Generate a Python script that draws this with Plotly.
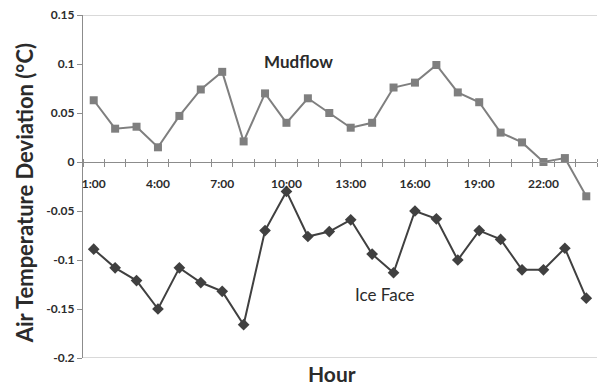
import plotly.graph_objects as go

hours = list(range(1, 25))
hour_labels = [f"{h}:00" for h in hours]
label_hours = [1, 4, 7, 10, 13, 16, 19, 22]
mudflow = [0.063, 0.034, 0.036, 0.015, 0.047, 0.074, 0.092, 0.021, 0.070, 0.040,
           0.065, 0.050, 0.035, 0.040, 0.076, 0.081, 0.099, 0.071, 0.061, 0.030,
           0.020, 0.000, 0.004, -0.035]
ice_face = [-0.089, -0.108, -0.121, -0.150, -0.108, -0.123, -0.132, -0.166, -0.070, -0.030,
            -0.076, -0.071, -0.059, -0.094, -0.113, -0.050, -0.058, -0.100, -0.070, -0.079,
            -0.110, -0.110, -0.088, -0.139]
y_ticks = [0.15, 0.1, 0.05, 0, -0.05, -0.1, -0.15, -0.2]
y_tick_text = ["0.15", "0.1", "0.05", "0", "-0.05", "-0.1", "-0.15", "-0.2"]

FONT = "Lato"
TXT = "#2b2b2b"
AX = "#8c8c8c"
ymin, ymax = -0.2, 0.15
zero_pos = (0 - ymin) / (ymax - ymin)

fig = go.Figure()
fig.add_trace(go.Scatter(
    x=hours, y=mudflow, mode="lines+markers",
    line=dict(color="#7f7f7f", width=2),
    marker=dict(symbol="square", size=8, color="#7f7f7f"),
    showlegend=False))
fig.add_trace(go.Scatter(
    x=hours, y=ice_face, mode="lines+markers",
    line=dict(color="#404040", width=2),
    marker=dict(symbol="diamond", size=9, color="#404040"),
    showlegend=False))
# invisible helper trace so the overlay axis (upper half of cross ticks) is drawn
fig.add_trace(go.Scatter(x=hours, y=mudflow, xaxis="x2", mode="lines",
                         opacity=0, hoverinfo="skip", showlegend=False))

fig.update_layout(
    width=598, height=385,
    margin=dict(l=83, r=1, t=15, b=27),
    plot_bgcolor="white", paper_bgcolor="white",
    xaxis=dict(
        range=[0.5, 24.5], anchor="free", position=zero_pos,
        tickmode="array", tickvals=label_hours,
        ticktext=[hour_labels[h - 1] for h in label_hours],
        ticks="", showline=True, linecolor=AX, linewidth=1.2,
        showgrid=False, zeroline=False, ticklabelstandoff=10,
        tickfont=dict(family=FONT, size=12, color=TXT, weight="bold"),
        minor=dict(tickmode="linear", tick0=0.5, dtick=1, ticks="outside",
                   ticklen=4, tickcolor=AX, tickwidth=1, showgrid=False),
    ),
    xaxis2=dict(
        range=[0.5, 24.5], overlaying="x", anchor="free", position=zero_pos,
        showticklabels=False, tickmode="array", tickvals=[], ticks="",
        showline=False, showgrid=False, zeroline=False,
        minor=dict(tickmode="linear", tick0=0.5, dtick=1, ticks="inside",
                   ticklen=3, tickcolor=AX, tickwidth=1, showgrid=False),
    ),
    yaxis=dict(
        range=[ymin, ymax], tickmode="array", tickvals=y_ticks, ticktext=y_tick_text,
        ticks="outside", ticklen=5, tickcolor=AX, showline=True, linecolor=AX,
        linewidth=1.2, showgrid=False, zeroline=False,
        tickfont=dict(family=FONT, size=12, color=TXT, weight="bold"),
    ),
    shapes=[
        dict(type="line", xref="paper", yref="y", x0=0, x1=1, y0=ymax, y1=ymax,
             line=dict(color="#b3b3b3", width=1.2)),
        dict(type="line", xref="paper", yref="y", x0=0, x1=1, y0=ymin, y1=ymin,
             line=dict(color="#b3b3b3", width=1.2)),
    ],
    annotations=[
        dict(text="Air Temperature Deviation (°C)", textangle=-90, xref="paper", yref="paper",
             x=(24 - 83) / 514, y=0.48, xanchor="center", yanchor="middle", showarrow=False,
             font=dict(family=FONT, size=22, color=TXT, weight="bold")),
        dict(text="Hour", xref="paper", yref="paper", x=(332 - 83) / 514, y=-(373 - 358) / 343,
             xanchor="center", yanchor="middle", showarrow=False,
             font=dict(family=FONT, size=21, color=TXT, weight="bold")),
        dict(text="Mudflow", xref="paper", yref="paper", x=(298 - 83) / 514, y=(358 - 62) / 343,
             xanchor="center", yanchor="middle", showarrow=False,
             font=dict(family=FONT, size=17, color=TXT, weight="bold")),
        dict(text="Ice Face", xref="paper", yref="paper", x=(385 - 83) / 514, y=(358 - 294) / 343,
             xanchor="center", yanchor="middle", showarrow=False,
             font=dict(family=FONT, size=17, color=TXT)),
    ],
)

fig.write_html("out.html")
